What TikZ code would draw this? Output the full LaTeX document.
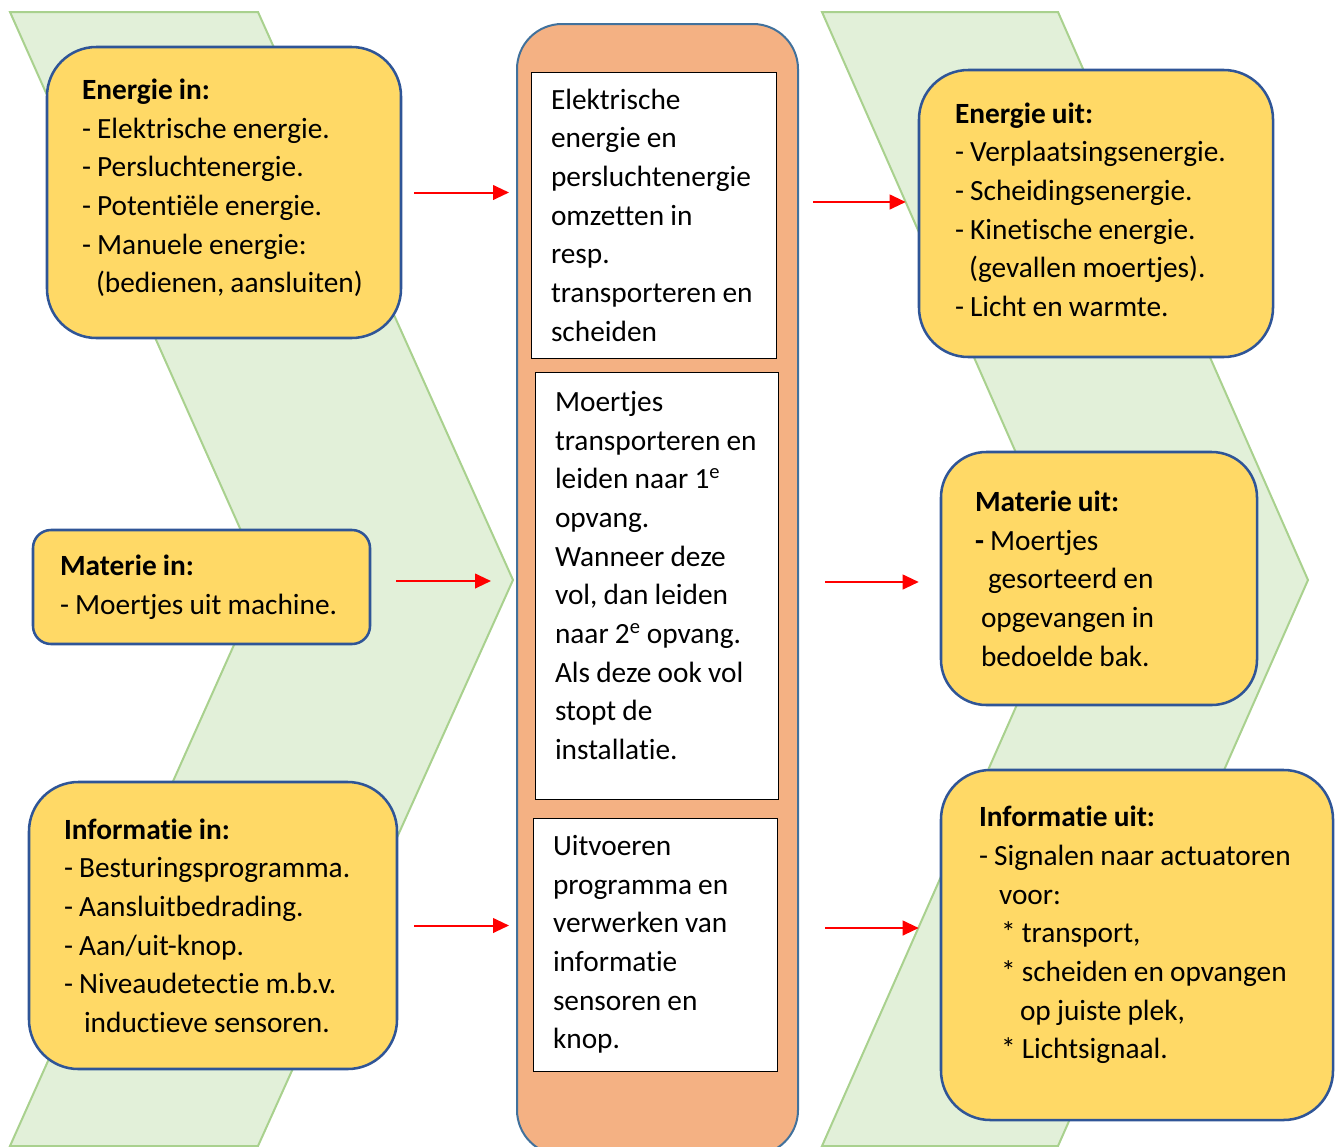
\documentclass[tikz,border=0pt]{standalone}
\usepackage{fontspec}
\setmainfont{Carlito}[Ligatures=NoCommon]
\usepackage{tikz}
\usetikzlibrary{arrows.meta,calc}
\definecolor{groen}{HTML}{A9D18E}
\definecolor{groenlicht}{HTML}{E2F0D9}
\definecolor{geel}{HTML}{FFD966}
\definecolor{blauw}{HTML}{2F5597}
\definecolor{blauwgrijs}{HTML}{41719C}
\definecolor{oranje}{HTML}{F4B183}
\definecolor{rood}{HTML}{FF0000}
\tikzset{
  chevron/.style={draw=groen,fill=groenlicht,line width=1.5pt,line join=miter},
  kader/.style={draw=blauwgrijs,fill=oranje,line width=1.5pt,rounded corners=33.75pt,
    minimum width=210.75pt,minimum height=848.25pt,inner sep=0pt},
  ioblok/.style={draw=blauw,fill=geel,line width=1.9pt,rounded corners=37pt,
    align=left,inner ysep=0pt,font=\fontsize{22pt}{29pt}\selectfont,
    execute at begin node={\spaceskip=0.21em\relax}},
  procblok/.style={draw=black,fill=white,line width=0.75pt,inner xsep=15pt,inner ysep=0pt,
    align=left,font=\fontsize{22pt}{29pt}\selectfont,
    execute at begin node={\spaceskip=0.21em\relax}},
  pijl/.style={-{Triangle[length=12pt,width=11pt]},draw=rood,fill=rood,line width=1.5pt}
}
\begin{document}
\begin{tikzpicture}[x=0.75pt,y=-0.75pt]
\useasboundingbox (0,0) rectangle (1338,1146);

\draw[chevron] (10,12) -- (258,12) -- (513,580) -- (258,1146) -- (10,1146) -- (263,580) -- cycle;
\draw[chevron] (822,12) -- (1058,12) -- (1308,580) -- (1058,1146) -- (822,1146) -- (1072,580) -- cycle;

\node[kader] (kader) at (657.5,589.5) {};

\node[procblok,text width=153.75pt,minimum width=183.75pt,minimum height=214.5pt] (proc1) at (653.5,215)
{Elektrische\\energie en\\persluchtenergie\\omzetten in\\resp.\\transporteren en\\scheiden};
\node[procblok,text width=152.25pt,minimum width=182.25pt,minimum height=320.25pt] (proc2) at (656.5,585.5)
{Moertjes\\transporteren en\\leiden naar 1\textsuperscript{e}\\opvang.\\Wanneer deze\\vol, dan leiden\\naar 2\textsuperscript{e} opvang.\\Als deze ook vol\\stopt de\\installatie.\\[-14pt]\mbox{}};
\node[procblok,text width=153pt,minimum width=183pt,minimum height=189.75pt] (proc3) at (655,944.5)
{Uitvoeren\\programma en\\verwerken van\\informatie\\sensoren en\\knop.};

\node[ioblok,inner xsep=26.25pt,text width=213pt,minimum height=218.25pt] (ein) at (224,192.5)
{\textbf{Energie in:}\\- Elektrische energie.\\- Persluchtenergie.\\- Potentiële energie.\\- Manuele energie:\\\hspace*{10.5pt}(bedienen, aansluiten)\\[-19pt]\mbox{}};
\node[ioblok,rounded corners=13.5pt,inner xsep=20.25pt,text width=212.25pt,minimum height=85.5pt] (min) at (201.5,587)
{\textbf{Materie in:}\\- Moertjes uit machine.};
\node[ioblok,inner xsep=26.25pt,text width=223.5pt,minimum height=215.25pt] (iin) at (213,925.5)
{\textbf{Informatie in:}\\- Besturingsprogramma.\\- Aansluitbedrading.\\- Aan/uit-knop.\\- Niveaudetectie m.b.v.\\\hspace*{15pt}inductieve sensoren.};

\node[ioblok,inner xsep=27pt,text width=211.5pt,minimum height=215.25pt] (eout) at (1096,213.5)
{\textbf{Energie uit:}\\- Verplaatsingsenergie.\\- Scheidingsenergie.\\- Kinetische energie.\\\hspace*{10.5pt}(gevallen moertjes).\\- Licht en warmte.\\[-23pt]\mbox{}};
\node[ioblok,rounded corners=34pt,inner xsep=25.5pt,text width=186pt,minimum height=189.75pt] (mout) at (1099,578.5)
{\textbf{Materie uit:}\\\textbf{-} Moertjes\\\hspace*{9.75pt}gesorteerd en\\\hspace*{4.5pt}opgevangen in\\\hspace*{4.5pt}bedoelde bak.};
\node[ioblok,inner xsep=28.5pt,text width=237pt,minimum height=262.5pt] (iout) at (1137,945)
{\textbf{Informatie uit:}\\- Signalen naar actuatoren\\\hspace*{15pt}voor:\\\hspace*{16.5pt}* transport,\\\hspace*{16.5pt}* scheiden en opvangen\\\hspace*{30.75pt}op juiste plek,\\\hspace*{16.5pt}* Lichtsignaal.\\[-10.5pt]\mbox{}};

\draw[pijl,shorten <=9pt,shorten >=5.25pt] (ein.east) -- (ein.east -| kader.west);
\draw[pijl,shorten <=18.75pt,shorten >=18.75pt] ($(min.east)+(0,-6)$) -- ($(min.east -| kader.west)+(0,-6)$);
\draw[pijl,shorten <=12pt,shorten >=5.25pt] (iin.east) -- (iin.east -| kader.west);
\draw[pijl,shorten <=10.5pt,shorten >=9pt] ($(eout.west -| kader.east)+(0,-11.5)$) -- ($(eout.west)+(0,-11.5)$);
\draw[pijl,shorten <=19.5pt,shorten >=15.75pt] ($(mout.west -| kader.east)+(0,3.5)$) -- ($(mout.west)+(0,3.5)$);
\draw[pijl,shorten <=19.5pt,shorten >=15.75pt] ($(iout.west -| kader.east)+(0,-17)$) -- ($(iout.west)+(0,-17)$);
\end{tikzpicture}
\end{document}
